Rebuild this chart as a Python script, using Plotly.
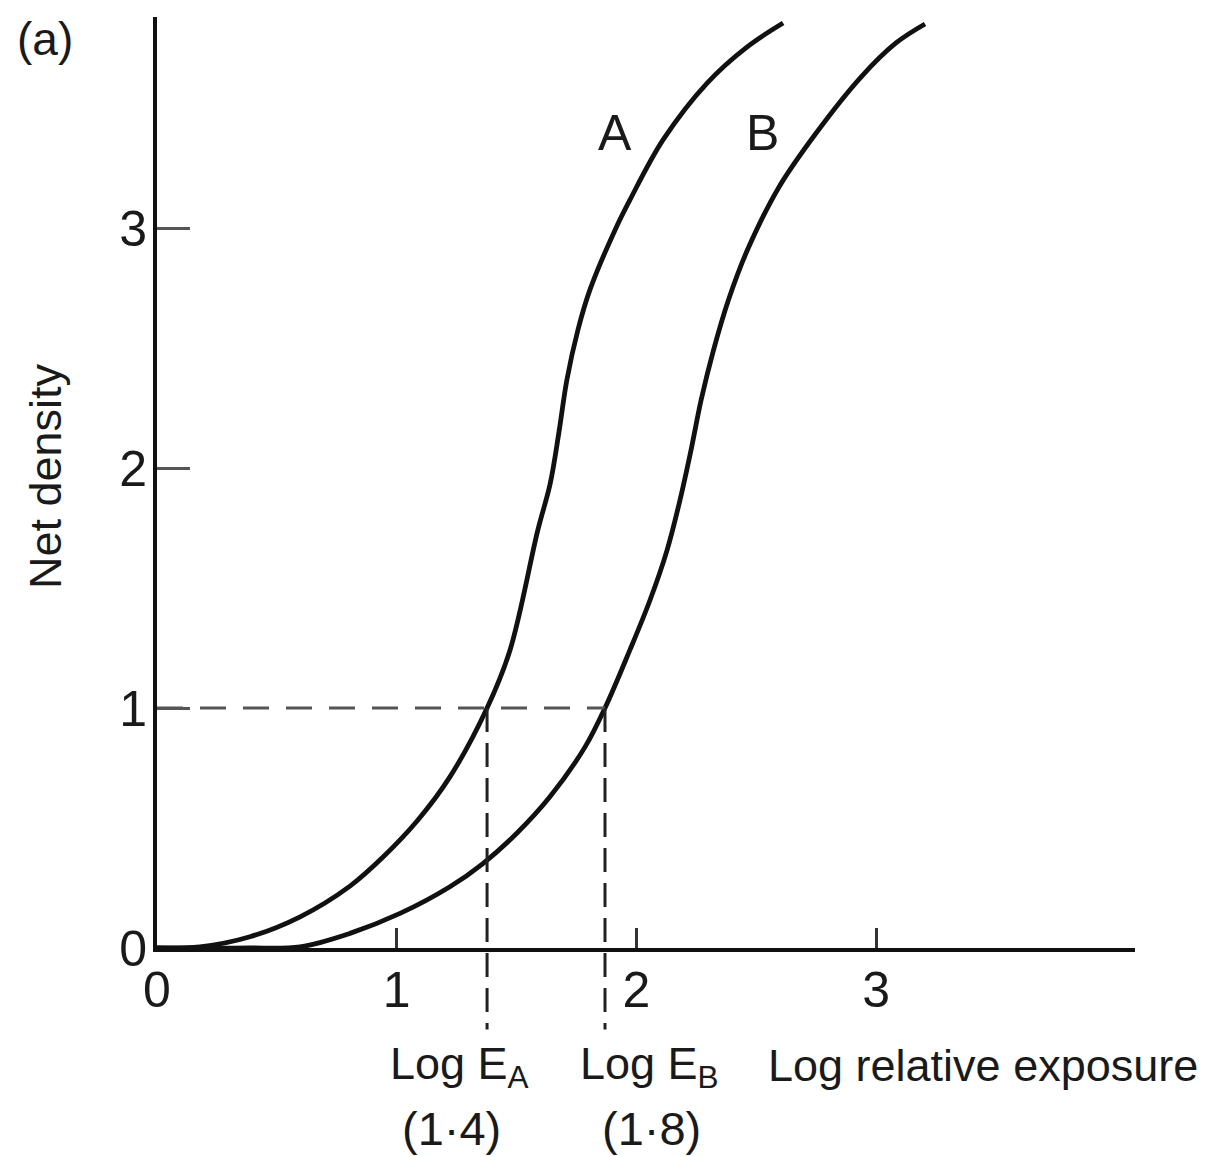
import plotly.graph_objects as go

# ---- data ----
log_exposure_A = [0, 0.179, 0.388, 0.597, 0.805, 0.943, 1.085, 1.222, 1.377, 1.473, 1.589, 1.640, 1.677, 1.710, 1.756, 1.806, 1.911, 1.973, 2.111, 2.295, 2.461, 2.612]
density_A = [0, 0.005, 0.047, 0.130, 0.258, 0.379, 0.529, 0.713, 1.0, 1.242, 1.742, 1.933, 2.150, 2.367, 2.575, 2.742, 2.992, 3.117, 3.367, 3.604, 3.754, 3.854]

log_exposure_B = [0, 0.200, 0.388, 0.597, 0.805, 1.014, 1.222, 1.361, 1.501, 1.640, 1.786, 1.869, 1.973, 2.057, 2.128, 2.182, 2.228, 2.270, 2.322, 2.384, 2.463, 2.595, 2.750, 2.937, 3.083, 3.204]
density_B = [0, 0.0, 0.0, 0.005, 0.061, 0.144, 0.255, 0.353, 0.478, 0.631, 0.838, 1.0, 1.242, 1.450, 1.658, 1.867, 2.075, 2.283, 2.492, 2.700, 2.908, 3.171, 3.396, 3.629, 3.771, 3.850]

ref_density = 1.0
log_EA = 1.377
log_EB = 1.869
dash_bottom = -0.34

x_ticks = [0, 1, 2, 3]
y_ticks = [0, 1, 2, 3]

FONT = "Liberation Sans, Arial, Helvetica, sans-serif"
TXT = "#1a1a1a"

W, H = 1209, 1157
X0PX, X1PX = 157, 1135
Y0PX, YTOPPX = 948, 17
PXX = 239.7
PXY = 240.0

fig = go.Figure()

fig.add_trace(go.Scatter(x=log_exposure_A, y=density_A, mode="lines",
                         line=dict(color="#111111", width=4.8, shape="spline", smoothing=1.0),
                         showlegend=False, hoverinfo="skip"))
fig.add_trace(go.Scatter(x=log_exposure_B, y=density_B, mode="lines",
                         line=dict(color="#111111", width=4.8, shape="spline", smoothing=1.0),
                         showlegend=False, hoverinfo="skip"))

# dashed reference lines
fig.add_trace(go.Scatter(x=[0, log_EB], y=[ref_density, ref_density], mode="lines",
                         line=dict(color="#555555", width=3, dash="26px,17px"),
                         showlegend=False, hoverinfo="skip"))
fig.add_trace(go.Scatter(x=[log_EA, log_EA], y=[ref_density, dash_bottom], mode="lines",
                         line=dict(color="#222222", width=3, dash="24px,11px"),
                         showlegend=False, hoverinfo="skip"))
fig.add_trace(go.Scatter(x=[log_EB, log_EB], y=[ref_density, dash_bottom], mode="lines",
                         line=dict(color="#222222", width=3, dash="24px,11px"),
                         showlegend=False, hoverinfo="skip"))

# dummy trace for the visible y axis
fig.add_trace(go.Scatter(x=[None], y=[None], yaxis="y2", showlegend=False, hoverinfo="skip"))

xdom = [X0PX / W, X1PX / W]
xrange_ = [0, (X1PX - X0PX) / PXX]
yrange_full = [(Y0PX - H) / PXY, Y0PX / PXY]
ydom_vis = [(H - Y0PX) / H, (H - YTOPPX) / H]
yrange_vis = [0, (Y0PX - YTOPPX) / PXY]

fig.update_layout(
    template="none",
    width=W, height=H,
    margin=dict(l=0, r=0, t=0, b=0, pad=0, autoexpand=False),
    paper_bgcolor="white", plot_bgcolor="rgba(0,0,0,0)",
    font=dict(family=FONT, size=45, color=TXT),
    showlegend=False,
    xaxis=dict(domain=xdom, range=xrange_, anchor="y2", automargin=False,
               showline=True, linecolor="#111111", linewidth=4,
               ticks="inside", ticklen=20, tickwidth=3, tickcolor="#333333",
               tickvals=x_ticks, ticktext=[str(v) for v in x_ticks],
               tickfont=dict(family=FONT, size=50, color=TXT),
               ticklabelstandoff=-5,
               showgrid=False, zeroline=False, fixedrange=True),
    yaxis=dict(domain=[0, 1], range=yrange_full, anchor="x", visible=False, automargin=False,
               showgrid=False, zeroline=False, fixedrange=True),
    yaxis2=dict(domain=ydom_vis, range=yrange_vis, anchor="x", automargin=False,
                showline=True, linecolor="#111111", linewidth=4,
                ticks="inside", ticklen=33, tickwidth=3, tickcolor="#555555",
                tickvals=y_ticks, ticktext=[str(v) for v in y_ticks],
                tickfont=dict(family=FONT, size=50, color=TXT),
                ticklabelstandoff=-4,
                showgrid=False, zeroline=False, fixedrange=True),
)

def ann(text, x, y, size, xref="x", yref="y", angle=0):
    fig.add_annotation(text=text, xref=xref, yref=yref, x=x, y=y, textangle=angle,
                       xanchor="center", yanchor="middle", showarrow=False,
                       font=dict(family=FONT, size=size, color=TXT))

def dx(px):
    return (px - X0PX) / PXX

def dy(py):
    return (Y0PX - py) / PXY

ann("(a)", 45 / W, 1 - 39 / H, 46, xref="paper", yref="paper")
ann("Net density", 45 / W, dy(476), 45, xref="paper", angle=-90)
ann("A", dx(615), dy(133), 50)
ann("B", dx(762), dy(133), 50)
ann("Log E<sub>A</sub>", dx(459), dy(1066), 45)
ann("(1·4)", dx(451), dy(1128), 47)
ann("Log E<sub>B</sub>", dx(649), dy(1066), 45)
ann("(1·8)", dx(651), dy(1128), 47)
ann("Log relative exposure", dx(983), dy(1065), 45)

fig.write_html("out.html")
